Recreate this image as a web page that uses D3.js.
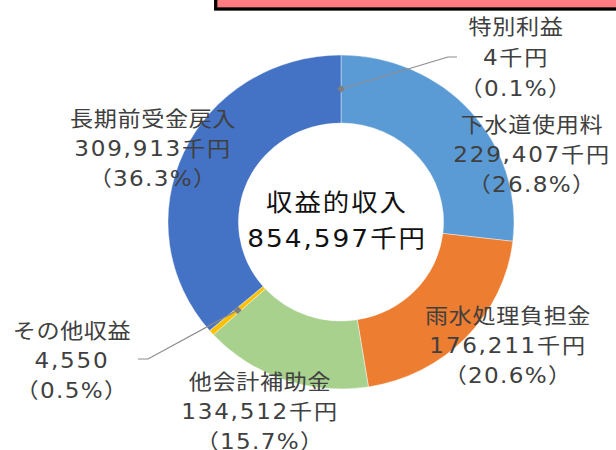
<!DOCTYPE html>
<html>
<head>
<meta charset="utf-8">
<script src="https://cdn.jsdelivr.net/npm/d3@7"></script>
<style>
  body { margin: 0; background: #fff; }
  text { font-family: "DejaVu Sans", "Noto Sans CJK JP", sans-serif; }
</style>
</head>
<body>
<div id="chart"></div>
<script>
// Data
const categories = ["特別利益", "下水道使用料", "雨水処理負担金", "他会計補助金", "その他収益", "長期前受金戻入"];
const values = [4, 229407, 176211, 134512, 4550, 309913];
const valueLabels = ["4千円", "229,407千円", "176,211千円", "134,512千円", "4,550", "309,913千円"];
const percentLabels = ["（0.1%）", "（26.8%）", "（20.6%）", "（15.7%）", "（0.5%）", "（36.3%）"];
const colors = ["#A5A5A5", "#5B9BD5", "#ED7D31", "#A9D18E", "#FFC000", "#4472C4"];
const centerTitle = "収益的収入";
const centerTotal = "854,597千円";

const width = 616, height = 450;
const cx = 341, cy = 222;
const sx = 1.036;              // chart is slightly wider than tall
const outerR = 167, innerR = 99;

// label layout: centre x, first line centre y, line gap
const labelLayout = [
  {x: 516, y: 26, gap: 31},
  {x: 532, y: 124, gap: 30},
  {x: 508, y: 315, gap: 30},
  {x: 260, y: 381, gap: 30},
  {x: 72, y: 330, gap: 30},
  {x: 153, y: 118, gap: 30}
];
// leader lines (label side end points)
const leaders = {
  0: [[448, 57], [457, 57]],
  4: [[148, 359], [138, 359]]
};
// letter spacing per label line (name, value, percent)
const lineSpacing = ["0.6px", "1.6px", "1.2px"];

const svg = d3.select("#chart")
  .append("svg")
  .attr("width", width)
  .attr("height", height);

// pink box at the top
svg.append("rect")
  .attr("x", 215.7)
  .attr("y", -10)
  .attr("width", 420)
  .attr("height", 19)
  .attr("fill", "#FF7C80")
  .attr("stroke", "#000")
  .attr("stroke-width", 3.3);

const pie = d3.pie().sort(null).value(d => d)(values);
const arc = d3.arc().innerRadius(innerR).outerRadius(outerR);

const g = svg.append("g")
  .attr("transform", `translate(${cx},${cy}) scale(${sx},1)`);

g.selectAll("path")
  .data(pie)
  .join("path")
  .attr("d", arc)
  .attr("fill", (d, i) => colors[i])
  .attr("stroke", "#fff")
  .attr("stroke-width", 0.4);

// leader lines + diamond markers
Object.keys(leaders).forEach(k => {
  const i = +k;
  const c = arc.centroid(pie[i]);
  const p = [cx + c[0] * sx, cy + c[1]];
  const pts = [p].concat(leaders[k]);
  svg.append("path")
    .attr("d", d3.line()(pts))
    .attr("fill", "none")
    .attr("stroke", "#8c8c8c")
    .attr("stroke-width", 1.2);
  svg.append("path")
    .attr("d", d3.symbol().type(d3.symbolSquare).size(30)())
    .attr("transform", `translate(${p[0]},${p[1]}) rotate(45)`)
    .attr("fill", "#7f7f7f");
});

// slice labels
const textScale = 1.1;
categories.forEach((name, i) => {
  const L = labelLayout[i];
  [name, valueLabels[i], percentLabels[i]].forEach((t, j) => {
    svg.append("text")
      .attr("transform", `translate(${L.x},${L.y + j * L.gap}) scale(${textScale},1)`)
      .attr("text-anchor", "middle")
      .attr("dy", "0.36em")
      .attr("fill", "#404040")
      .style("font-size", "21px")
      .style("letter-spacing", lineSpacing[j])
      .text(t);
  });
});

// centre text
[centerTitle, centerTotal].forEach((t, j) => {
  svg.append("text")
    .attr("transform", `translate(${cx - 4},${202 + j * 36}) scale(${textScale},1)`)
    .attr("text-anchor", "middle")
    .attr("dy", "0.36em")
    .attr("fill", "#111")
    .style("font-size", "24px")
    .style("letter-spacing", "1.8px")
    .text(t);
});
</script>
</body>
</html>
